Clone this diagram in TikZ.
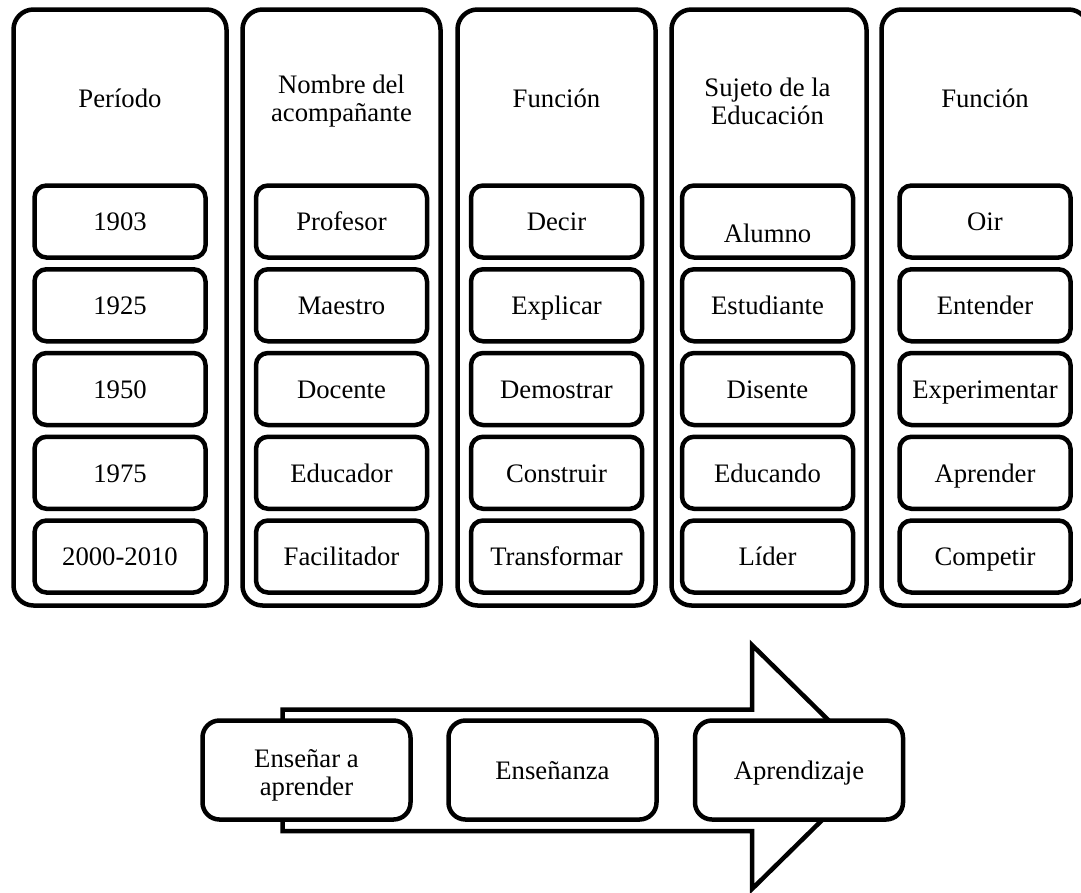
\documentclass[tikz,border=0pt]{standalone}
\usepackage{fontspec}
\setmainfont{Liberation Serif}
\begin{document}
\begin{tikzpicture}[x=1pt,y=-1pt,
  every node/.style={font=\fontsize{26.7}{28}\selectfont, align=center},
  colbox/.style={draw, line width=4.5pt, rounded corners=20pt, fill=white, minimum height=596pt, inner sep=0pt},
  itembox/.style={draw, line width=4.5pt, rounded corners=12pt, fill=white, minimum width=171pt, minimum height=72pt, inner sep=0pt, text height=18.5pt, text depth=0pt},
  stagebox/.style={draw, line width=4.5pt, rounded corners=17pt, fill=white, minimum width=208pt, minimum height=99pt, inner sep=0pt},
  arrowshape/.style={draw, line width=4.5pt, fill=white, line join=miter},
  headtext/.style={inner sep=0pt},
  linetext/.style={inner sep=0pt, text height=18.5pt, text depth=0pt}
]
\useasboundingbox (0,0) rectangle (1081,892);
\begin{scope}
\clip (0,0) rectangle (1081,892);
% columns
\node[colbox, minimum width=213pt] (col1) at (120,307.5) {};
\node[colbox, minimum width=198pt] (col2) at (341.5,307.5) {};
\node[colbox, minimum width=198pt] (col3) at (556.5,307.5) {};
\node[colbox, minimum width=195pt] (col4) at (769,307.5) {};
\node[colbox, minimum width=207pt] (col5) at (985,307.5) {};
% headers
\node[linetext] (h1) at (120,98) {Período};
\node[headtext] (h2) at (341.5,101) {Nombre del\\acompañante};
\node[linetext] (h3) at (556.5,98) {Función};
\node[headtext] (h4) at (767.5,101) {Sujeto de la\\Educación};
\node[linetext] (h5) at (985,98) {Función};
% column 1
\node[itembox] (a1) at (120,221.5) {1903};
\node[itembox] (a2) at (120,305.25) {1925};
\node[itembox] (a3) at (120,389) {1950};
\node[itembox] (a4) at (120,472.75) {1975};
\node[itembox] (a5) at (120,556.5) {2000-2010};
% column 2
\node[itembox] (b1) at (341.5,221.5) {Profesor};
\node[itembox] (b2) at (341.5,305.25) {Maestro};
\node[itembox] (b3) at (341.5,389) {Docente};
\node[itembox] (b4) at (341.5,472.75) {Educador};
\node[itembox] (b5) at (341.5,556.5) {Facilitador};
% column 3
\node[itembox] (c1) at (556.5,221.5) {Decir};
\node[itembox] (c2) at (556.5,305.25) {Explicar};
\node[itembox] (c3) at (556.5,389) {Demostrar};
\node[itembox] (c4) at (556.5,472.75) {Construir};
\node[itembox] (c5) at (556.5,556.5) {Transformar};
% column 4
\node[itembox] (d1) at (767.5,221.5) {};
\node[linetext] (d1t) at ([yshift=-12pt]d1.center) {Alumno};
\node[itembox] (d2) at (767.5,305.25) {Estudiante};
\node[itembox] (d3) at (767.5,389) {Disente};
\node[itembox] (d4) at (767.5,472.75) {Educando};
\node[itembox] (d5) at (767.5,556.5) {Líder};
% column 5
\node[itembox] (e1) at (985,221.5) {Oir};
\node[itembox] (e2) at (985,305.25) {Entender};
\node[itembox] (e3) at (985,389) {Experimentar};
\node[itembox] (e4) at (985,472.75) {Aprender};
\node[itembox] (e5) at (985,556.5) {Competir};
% big arrow
\draw[arrowshape] (282.5,709.5) -- (752,709.5) -- (752,645) -- (876,767) -- (752,889) -- (752,831) -- (282.5,831) -- cycle;
% stages
\node[stagebox] (s1) at (306.5,770) {};
\node[headtext] (s1t) at (306.5,775) {Enseñar a\\aprender};
\node[stagebox, text height=18.5pt, text depth=0pt] (s2) at (552.5,770) {Enseñanza};
\node[stagebox, text height=18.5pt, text depth=0pt] (s3) at (799,770) {Aprendizaje};
\end{scope}
\end{tikzpicture}
\end{document}
